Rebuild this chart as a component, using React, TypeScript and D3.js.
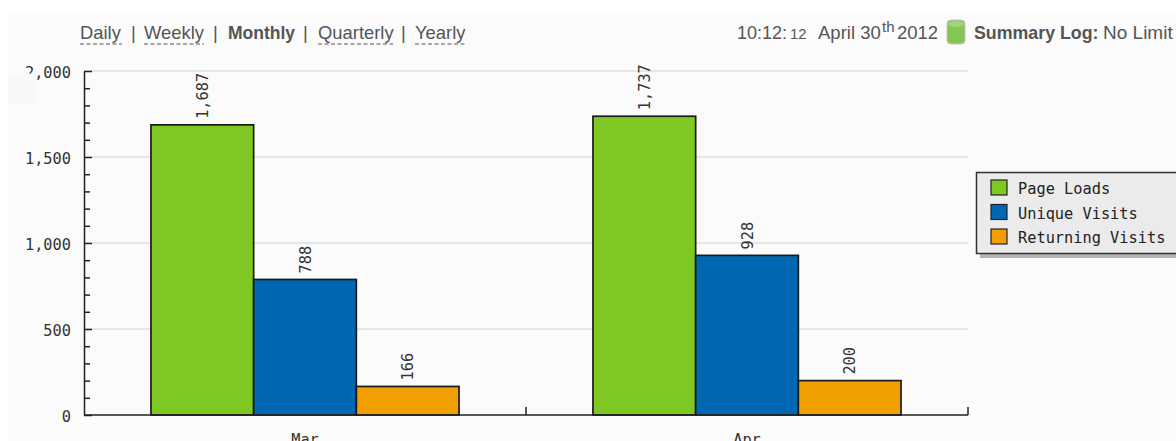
import { useEffect, useRef } from 'react'
import * as d3 from 'd3'

const categories = ['Mar', 'Apr']
const seriesNames = ['Page Loads', 'Unique Visits', 'Returning Visits']
const seriesColors = ['#7fc722', '#0068b3', '#f09e00']
const pageLoads = [1687, 1737]
const uniqueVisits = [788, 928]
const returningVisits = [166, 200]
const seriesValues = [pageLoads, uniqueVisits, returningVisits]
const majorTicks = [0, 500, 1000, 1500, 2000]
const minorTicks = d3.range(0, 2000, 100).filter((d) => d % 500 !== 0)

const navItems = [
  { label: 'Daily', x: 80, width: 42 },
  { label: '|', x: 131 },
  { label: 'Weekly', x: 144, width: 60 },
  { label: '|', x: 213 },
  { label: 'Monthly', x: 228, bold: true },
  { label: '|', x: 303 },
  { label: 'Quarterly', x: 318, width: 75 },
  { label: '|', x: 401 },
  { label: 'Yearly', x: 415, width: 51 },
]

const mono = '"DejaVu Sans Mono", monospace'
const sans = '"Liberation Sans", Arial, sans-serif'
const monoSize = 15.3

export default function App() {
  const svgRef = useRef<SVGSVGElement>(null)

  useEffect(() => {
    if (!svgRef.current) return
    const width = 1176
    const height = 441
    const margin = { left: 84, right: 968, top: 71, bottom: 415 }

    const svg = d3.select(svgRef.current)
    svg.selectAll('*').remove()

    // panel background
    svg.append('rect').attr('x', 8).attr('y', 12).attr('width', width - 8).attr('height', height - 12).attr('fill', '#fbfbfb')
    svg.append('rect').attr('x', 8).attr('y', 75).attr('width', 28).attr('height', 28).attr('fill', '#f8f8fa')

    const yScale = d3.scaleLinear().domain([0, 2000]).range([margin.bottom, margin.top])
    const x0 = d3.scaleBand<string>().domain(categories).range([margin.left, margin.right])
    const x1 = d3
      .scaleBand<string>()
      .domain(seriesNames)
      .range([0, x0.bandwidth()])
      .paddingOuter(0.652)

    // grid
    svg
      .append('g')
      .selectAll('line')
      .data(majorTicks.filter((d) => d > 0))
      .enter()
      .append('line')
      .attr('x1', margin.left)
      .attr('x2', margin.right)
      .attr('y1', (d) => yScale(d))
      .attr('y2', (d) => yScale(d))
      .attr('stroke', '#e6e6e6')
      .attr('stroke-width', 2)

    // bars
    seriesNames.forEach((name, s) => {
      categories.forEach((cat, c) => {
        const value = seriesValues[s][c]
        const bx = x0(cat)! + x1(name)!
        svg
          .append('rect')
          .attr('x', bx)
          .attr('y', yScale(value))
          .attr('width', x1.bandwidth())
          .attr('height', margin.bottom - yScale(value))
          .attr('fill', seriesColors[s])
          .attr('stroke', '#1a1a1a')
          .attr('stroke-width', 1.7)

        const tx = bx + x1.bandwidth() / 2 + 5.5
        const ty = yScale(value) - 6
        svg
          .append('text')
          .attr('transform', `translate(${tx},${ty}) rotate(-90)`)
          .attr('font-family', mono)
          .attr('font-size', monoSize)
          .attr('fill', '#333')
          .text(d3.format(',')(value))
      })
    })

    // y axis
    const yAxis = svg
      .append('g')
      .attr('transform', `translate(${margin.left},0)`)
      .call(d3.axisLeft(yScale).tickValues(majorTicks).tickSize(-8).tickSizeOuter(0).tickPadding(13).tickFormat(d3.format(',') as any))
    yAxis.selectAll('text').attr('font-family', mono).attr('font-size', monoSize).attr('fill', '#333').attr('dy', '0.42em')
    yAxis.selectAll('line, path').attr('stroke', '#222').attr('stroke-width', 1.5)

    const yMinor = svg
      .append('g')
      .attr('transform', `translate(${margin.left},0)`)
      .call(d3.axisLeft(yScale).tickValues(minorTicks).tickSize(-6).tickSizeOuter(0).tickFormat(() => ''))
    yMinor.select('path').remove()
    yMinor.selectAll('line').attr('stroke', '#222').attr('stroke-width', 1.5)

    // the reference loses the foot of the top label's first digit
    svg.append('rect').attr('x', 25).attr('y', 73.5).attr('width', 10.5).attr('height', 6).attr('fill', '#f9f9fb')

    // x axis
    svg
      .append('line')
      .attr('x1', margin.left)
      .attr('x2', margin.right)
      .attr('y1', margin.bottom)
      .attr('y2', margin.bottom)
      .attr('stroke', '#222')
      .attr('stroke-width', 1.5)
    categories.forEach((cat) => {
      const right = x0(cat)! + x0.bandwidth()
      svg
        .append('line')
        .attr('x1', right)
        .attr('x2', right)
        .attr('y1', margin.bottom)
        .attr('y2', margin.bottom - 8)
        .attr('stroke', '#222')
        .attr('stroke-width', 1.5)
      svg
        .append('text')
        .attr('x', x0(cat)! + x0.bandwidth() / 2)
        .attr('y', 445)
        .attr('text-anchor', 'middle')
        .attr('font-family', mono)
        .attr('font-size', monoSize)
        .attr('fill', '#333')
        .text(cat)
    })

    // legend
    svg.append('rect').attr('x', 980).attr('y', 176).attr('width', 200).attr('height', 82).attr('fill', '#b4b4b4')
    svg
      .append('rect')
      .attr('x', 976.5)
      .attr('y', 172.5)
      .attr('width', 204)
      .attr('height', 81)
      .attr('fill', '#ebebeb')
      .attr('stroke', '#333')
      .attr('stroke-width', 1.5)
    seriesNames.forEach((name, i) => {
      const ly = 180 + i * 24.5
      svg
        .append('rect')
        .attr('x', 991)
        .attr('y', ly)
        .attr('width', 16)
        .attr('height', 15)
        .attr('fill', seriesColors[i])
        .attr('stroke', '#222')
        .attr('stroke-width', 1.2)
      svg
        .append('text')
        .attr('x', 1018)
        .attr('y', ly + 14)
        .attr('font-family', mono)
        .attr('font-size', monoSize)
        .attr('fill', '#222')
        .text(name)
    })

    // nav row
    navItems.forEach((item) => {
      svg
        .append('text')
        .attr('x', item.x)
        .attr('y', 39)
        .attr('font-family', sans)
        .attr('font-size', item.bold ? 17.5 : 18.4)
        .attr('font-weight', item.bold ? 'bold' : 'normal')
        .attr('fill', '#555')
        .text(item.label)
      if (item.width) {
        svg
          .append('line')
          .attr('x1', item.x)
          .attr('x2', item.x + item.width)
          .attr('y1', 44)
          .attr('y2', 44)
          .attr('stroke', '#555')
          .attr('stroke-width', 1)
          .attr('stroke-dasharray', '4 2.5')
      }
    })

    // clock + summary
    const topText = (x: number, y: number, size: number, label: string, bold = false) =>
      svg
        .append('text')
        .attr('x', x)
        .attr('y', y)
        .attr('font-family', sans)
        .attr('font-size', size)
        .attr('font-weight', bold ? 'bold' : 'normal')
        .attr('fill', '#555')
        .text(label)
    topText(737, 39, 18, '10:12:')
    topText(790, 39, 15, '12')
    topText(818, 39, 18.5, 'April 30')
    topText(882, 32, 15, 'th')
    topText(897, 39, 18.5, '2012')
    topText(974, 39, 17.8, 'Summary Log:', true)
    topText(1103, 39, 19, 'No Limit')

    svg.append('rect').attr('x', 947).attr('y', 20).attr('width', 18).attr('height', 24).attr('rx', 4).attr('fill', '#85c556').attr('stroke', '#c4c4c4')
    svg.append('ellipse').attr('cx', 956).attr('cy', 24).attr('rx', 8).attr('ry', 3).attr('fill', '#a3d67c')
  }, [])

  return (
    <svg
      ref={svgRef}
      width={1176}
      height={441}
      style={{ position: 'fixed', left: 0, top: 0, display: 'block', background: '#fff' }}
    />
  )
}
